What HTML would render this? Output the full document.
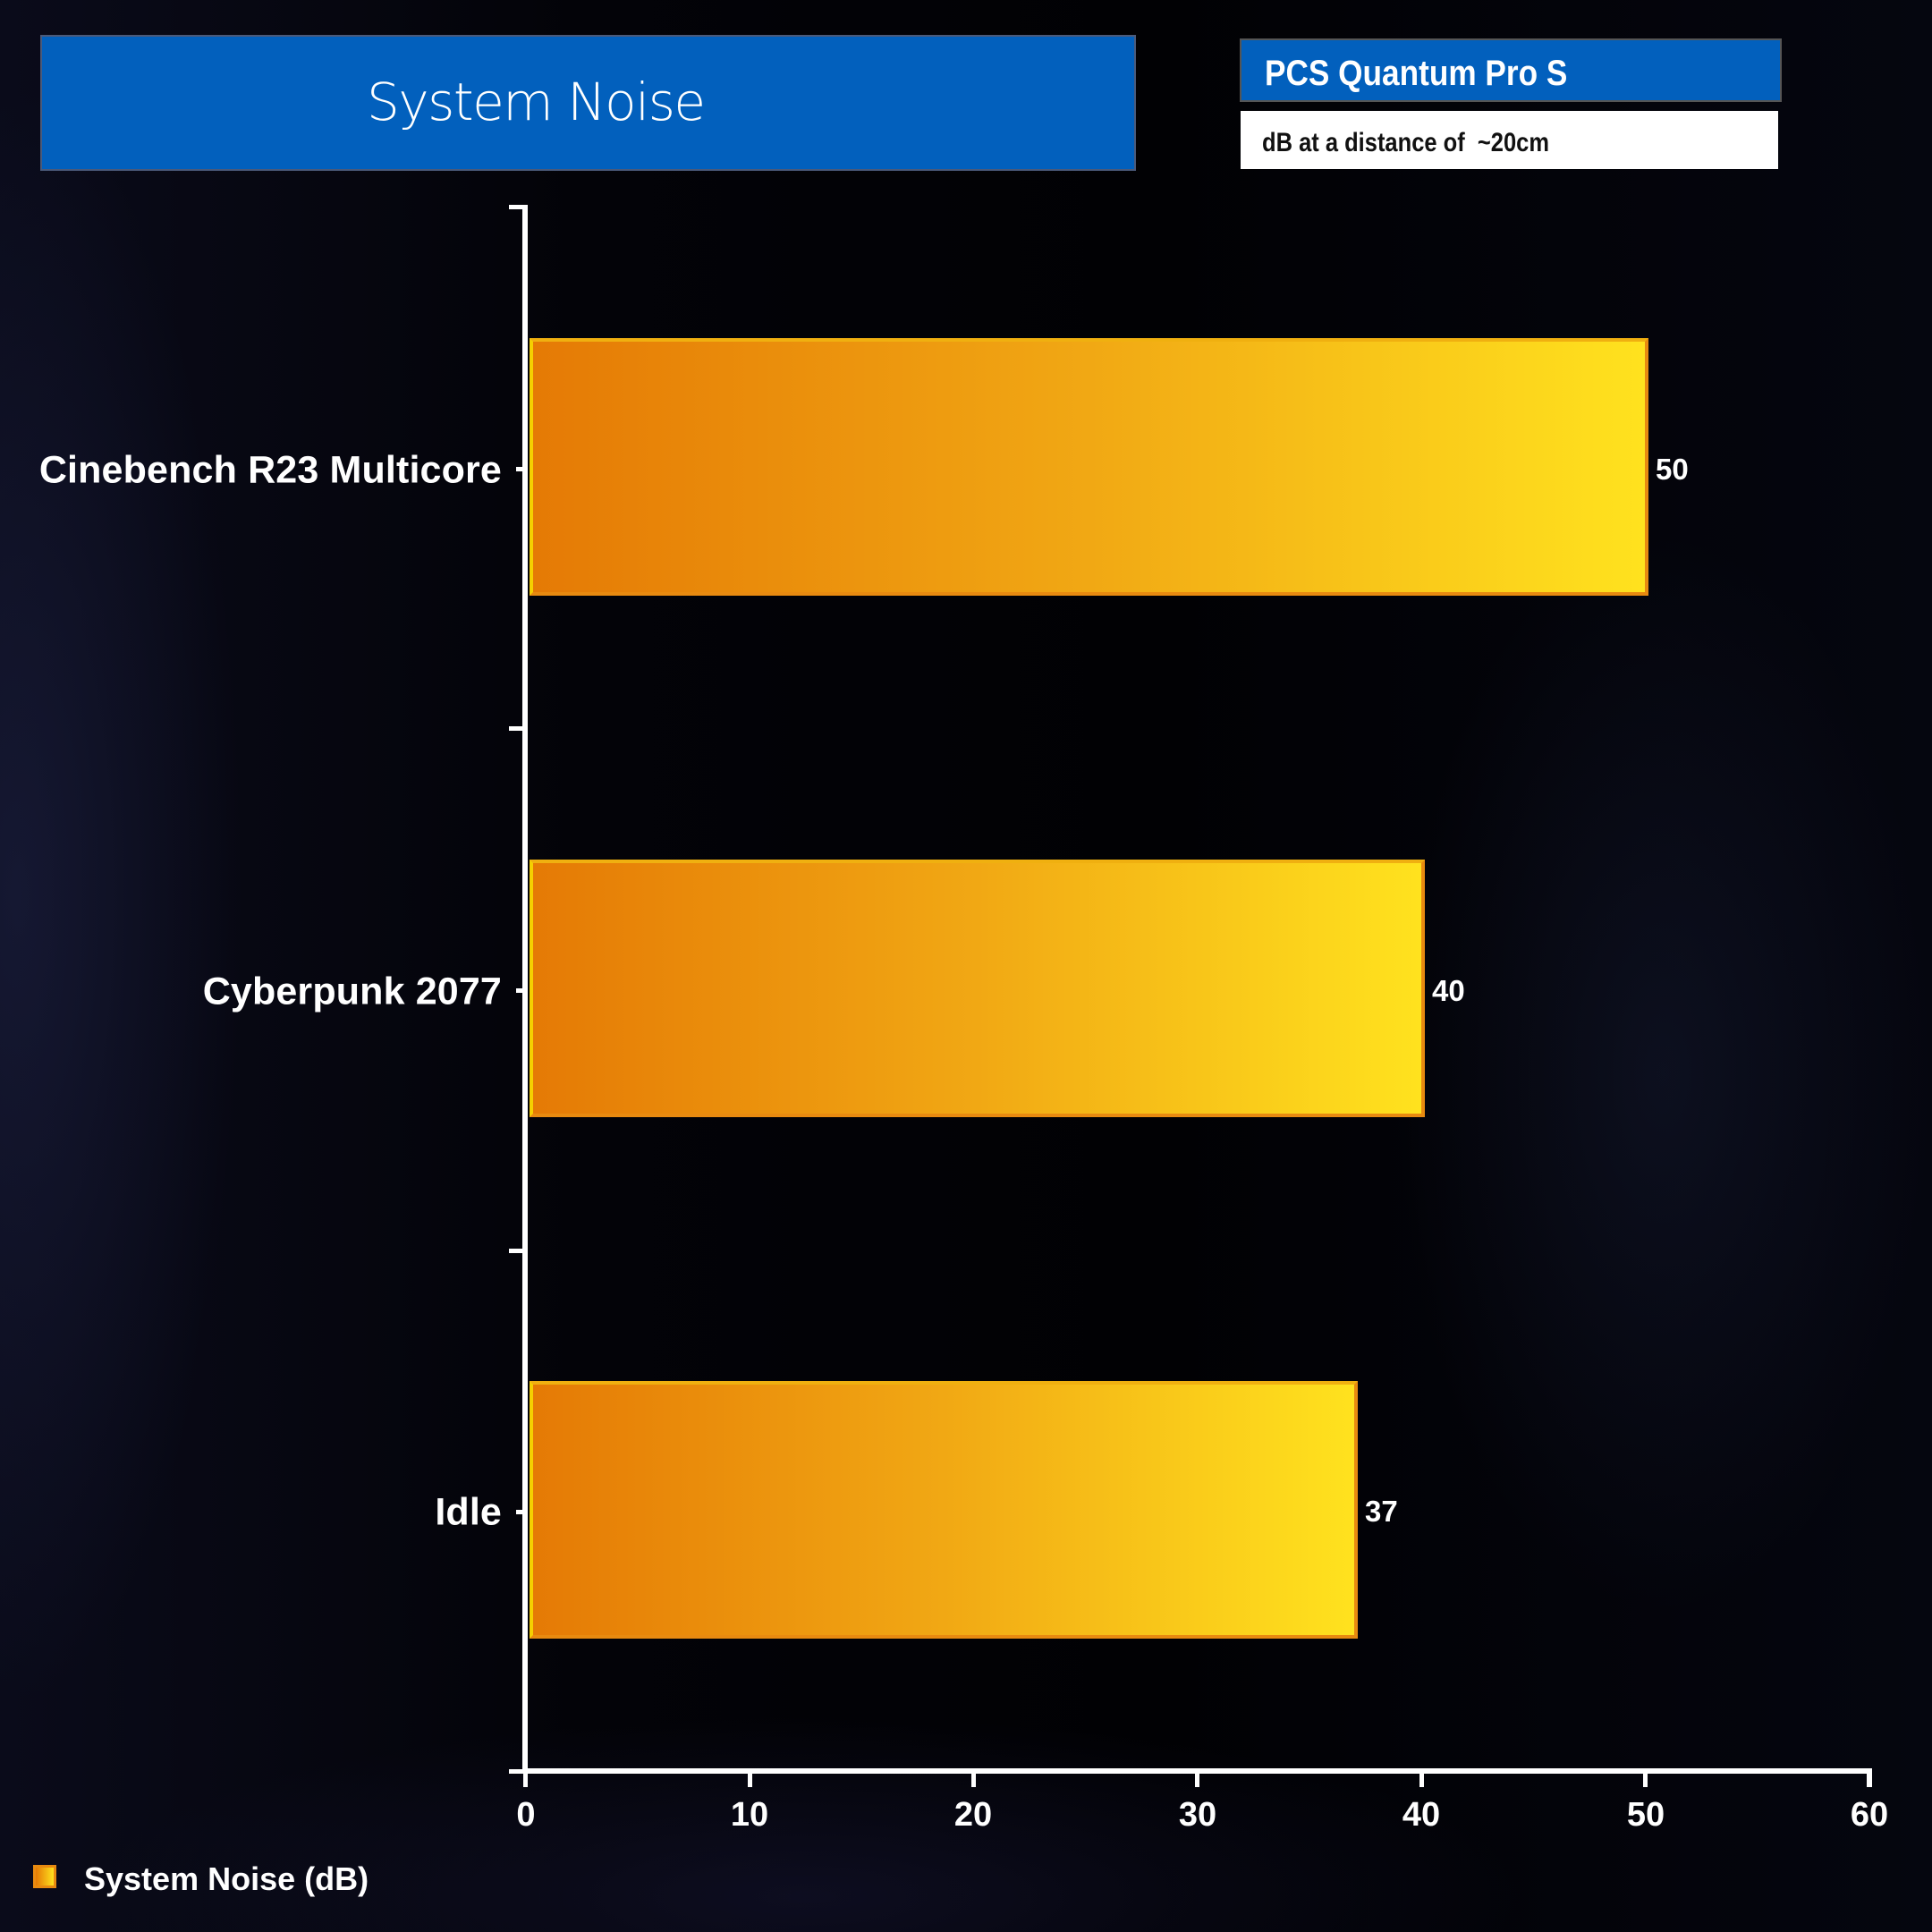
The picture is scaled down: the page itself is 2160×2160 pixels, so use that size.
<!DOCTYPE html>
<html><head><meta charset="utf-8"><style>
html,body{margin:0;padding:0}
body{width:2160px;height:2160px;position:relative;overflow:hidden;font-family:"Liberation Sans",sans-serif;
background:
radial-gradient(ellipse 250px 900px at 20px 1000px,rgba(35,40,80,.45),transparent),
radial-gradient(ellipse 300px 600px at 1860px 1200px,rgba(40,50,90,.25),transparent),
radial-gradient(ellipse 800px 200px at 900px 2120px,rgba(30,30,70,.4),transparent),
linear-gradient(90deg,#0a0b1a 0%,#030308 30%,#010104 60%,#05060f 100%);}
.a{position:absolute}
.bar{position:absolute;left:592px;height:288px;box-sizing:border-box;border:4px solid #e88a10;border-left-color:#f5d000;border-top-color:#f0b010;
background:linear-gradient(90deg,#e57a05,#f1a814 50%,#ffe21e);}
.lab{position:absolute;right:1599px;font-weight:bold;font-size:43px;letter-spacing:.15px;color:#fff;white-space:nowrap;transform:translateY(-50%)}
.val{position:absolute;font-weight:bold;font-size:33px;color:#fff;transform:translateY(-50%)}
.tl{position:absolute;top:2008px;font-weight:bold;font-size:38px;color:#fff;transform:translateX(-50%)}
.tk{position:absolute;background:#fff}
</style></head><body>
<div class="a" style="left:45px;top:39px;width:1225px;height:152px;background:#0260bd;border:2px solid #4b5a7a;box-sizing:border-box"></div>
<div class="a" style="left:410px;top:80px;font-size:58px;color:#fff;font-family:'DejaVu Sans',sans-serif;font-weight:300;letter-spacing:-1.5px">System Noise</div>
<div class="a" style="left:1386px;top:43px;width:606px;height:71px;background:#0260bd;border:2px solid #555;box-sizing:border-box"></div>
<div class="a" style="left:1414px;top:60px;font-size:40px;font-weight:bold;color:#fff;transform:scaleX(.88);transform-origin:left">PCS Quantum Pro S</div>
<div class="a" style="left:1387px;top:124px;width:601px;height:65px;background:#fff"></div>
<div class="a" style="left:1411px;top:143px;font-size:30px;font-weight:bold;color:#111;transform:scaleX(.85);transform-origin:left;white-space:pre">dB at a distance of  ~20cm</div>

<div class="tk" style="left:584px;top:229px;width:6px;height:1754px"></div>
<div class="tk" style="left:584px;top:1977px;width:1509px;height:6px"></div>
<div class="tk" style="left:569px;top:229px;width:18px;height:5px"></div>
<div class="tk" style="left:569px;top:812px;width:18px;height:5px"></div>
<div class="tk" style="left:569px;top:1396px;width:18px;height:5px"></div>
<div class="tk" style="left:569px;top:1978px;width:18px;height:5px"></div>
<div class="tk" style="left:577px;top:522px;width:8px;height:5px"></div>
<div class="tk" style="left:577px;top:1105px;width:8px;height:5px"></div>
<div class="tk" style="left:577px;top:1688px;width:8px;height:5px"></div>
<div class="tk" style="left:585px;top:1980px;width:5px;height:18px"></div>
<div class="tk" style="left:836px;top:1980px;width:5px;height:18px"></div>
<div class="tk" style="left:1086px;top:1980px;width:5px;height:18px"></div>
<div class="tk" style="left:1336px;top:1980px;width:5px;height:18px"></div>
<div class="tk" style="left:1587px;top:1980px;width:5px;height:18px"></div>
<div class="tk" style="left:1837px;top:1980px;width:5px;height:18px"></div>
<div class="tk" style="left:2087px;top:1980px;width:6px;height:18px"></div>

<div class="bar" style="top:378px;width:1251px"></div>
<div class="bar" style="top:961px;width:1001px"></div>
<div class="bar" style="top:1544px;width:926px"></div>

<div class="lab" style="top:526px">Cinebench R23 Multicore</div>
<div class="lab" style="top:1109px">Cyberpunk 2077</div>
<div class="lab" style="top:1691px">Idle</div>
<div class="val" style="left:1851px;top:525px">50</div>
<div class="val" style="left:1601px;top:1108px">40</div>
<div class="val" style="left:1526px;top:1690px">37</div>

<div class="tl" style="left:588px">0</div>
<div class="tl" style="left:838px">10</div>
<div class="tl" style="left:1088px">20</div>
<div class="tl" style="left:1339px">30</div>
<div class="tl" style="left:1589px">40</div>
<div class="tl" style="left:1840px">50</div>
<div class="tl" style="left:2090px">60</div>

<div class="a" style="left:37px;top:2085px;width:26px;height:26px;box-sizing:border-box;border:3px solid #e88a10;background:linear-gradient(90deg,#e57a05,#ffe21e)"></div>
<div class="a" style="left:94px;top:2080px;font-size:36px;font-weight:bold;color:#fff">System Noise (dB)</div>
</body></html>
